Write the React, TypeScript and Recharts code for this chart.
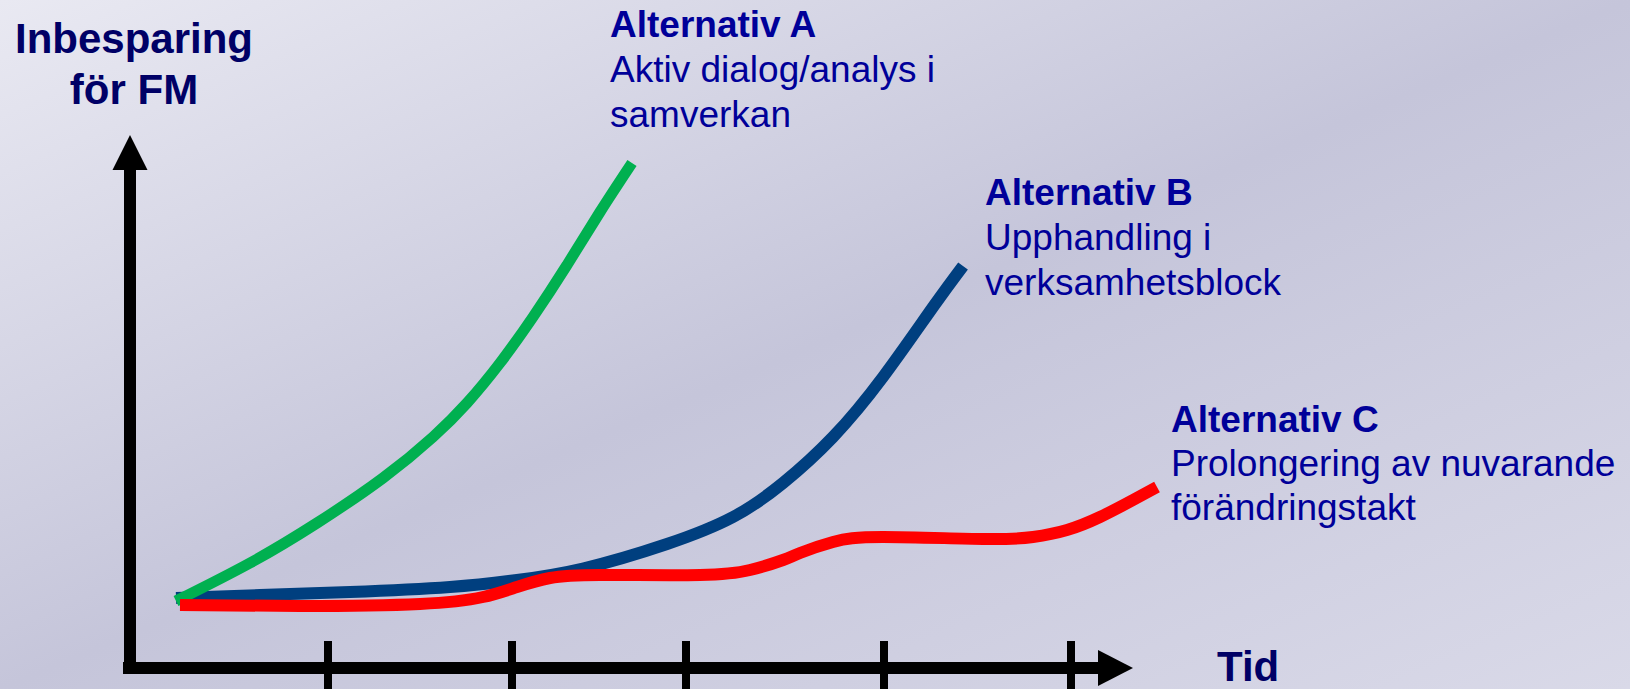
import React from "react";
import { LineChart, Line, XAxis, YAxis, ReferenceLine } from "recharts";

// Conceptual time axis (x) and savings axis (y), in chart units
const greenA = [
  { x: 4.6, y: 13.4 }, { x: 12.0, y: 21.0 }, { x: 18.7, y: 29.0 }, { x: 25.3, y: 38.0 },
  { x: 30.3, y: 46.2 }, { x: 33.7, y: 53.0 }, { x: 37.0, y: 61.0 }, { x: 40.3, y: 70.2 },
  { x: 43.7, y: 80.6 }, { x: 47.0, y: 91.2 }, { x: 50.2, y: 101.0 },
];
const blueB = [
  { x: 4.6, y: 14.0 }, { x: 13.0, y: 14.6 }, { x: 22.0, y: 15.2 }, { x: 32.0, y: 16.2 },
  { x: 38.7, y: 17.6 }, { x: 45.3, y: 19.9 }, { x: 53.7, y: 24.8 }, { x: 60.3, y: 30.2 },
  { x: 65.3, y: 37.0 }, { x: 70.3, y: 46.2 }, { x: 75.3, y: 58.2 }, { x: 80.3, y: 72.2 },
  { x: 83.3, y: 80.4 },
];
const redC = [
  { x: 5.0, y: 12.6 }, { x: 17.0, y: 12.4 }, { x: 29.0, y: 12.8 }, { x: 35.3, y: 14.2 },
  { x: 38.7, y: 16.2 }, { x: 42.0, y: 18.0 }, { x: 47.0, y: 18.6 }, { x: 57.0, y: 18.6 },
  { x: 62.0, y: 19.6 }, { x: 65.3, y: 21.6 }, { x: 67.0, y: 23.0 }, { x: 70.3, y: 25.2 },
  { x: 75.3, y: 26.2 }, { x: 85.3, y: 25.8 }, { x: 90.3, y: 26.2 }, { x: 93.7, y: 27.6 },
  { x: 97.0, y: 30.2 }, { x: 100.3, y: 33.6 }, { x: 102.7, y: 36.2 },
];
const timeTicks = [19.8, 38.2, 55.6, 75.4, 94.1];
const xAxisEnd = 100.3;
const yAxisEnd = 106.6;

const yTitle = ["Inbesparing", "för FM"];
const xTitle = "Tid";
const altA = ["Alternativ A", "Aktiv dialog/analys i", "samverkan"];
const altB = ["Alternativ B", "Upphandling i", "verksamhetsblock"];
const altC = ["Alternativ C", "Prolongering av nuvarande", "förändringstakt"];

const W = 1630;
const H = 689;
const FONT = "'Liberation Sans', Arial, sans-serif";

const Arrow = (props: any) => {
  const { x1, y1, x2, y2, w, head, hw } = props;
  const dx = x2 - x1;
  const dy = y2 - y1;
  const len = Math.sqrt(dx * dx + dy * dy) || 1;
  const ux = dx / len;
  const uy = dy / len;
  const bx = x2 - ux * head;
  const by = y2 - uy * head;
  const px = -uy * hw;
  const py = ux * hw;
  return (
    <g>
      <line x1={x1} y1={y1} x2={bx + ux * 1} y2={by + uy * 1} stroke="#000" strokeWidth={w} />
      <polygon points={`${x2},${y2} ${bx + px},${by + py} ${bx - px},${by - py}`} fill="#000" />
    </g>
  );
};

const TextBlock = ({ lines, x, y0, gap, color }: any) => (
  <g>
    {lines.map((t: string, i: number) => (
      <text
        key={i}
        x={x}
        y={y0 + i * gap}
        fill={color}
        fontFamily={FONT}
        fontSize={37}
        fontWeight={i === 0 ? "bold" : "normal"}
      >
        {t}
      </text>
    ))}
  </g>
);

export default function App() {
  return (
    <div
      style={{
        position: "absolute",
        left: 0,
        top: 0,
        width: W,
        height: H,
        overflow: "hidden",
        background: "linear-gradient(to bottom right, #e9e9f2 0%, #c5c5da 50%, #d9d9e8 100%)",
      }}
    >
      <LineChart
        width={W}
        height={H}
        margin={{ top: 118, right: 400, bottom: 21, left: 130 }}
        style={{ position: "absolute", left: 0, top: 0 }}
      >
        <XAxis type="number" dataKey="x" domain={[0, 110]} hide allowDataOverflow />
        <YAxis type="number" dataKey="y" domain={[0, 110]} hide allowDataOverflow />
        <ReferenceLine
          ifOverflow="visible"
          segment={[{ x: 0, y: -1.2 }, { x: 0, y: yAxisEnd }]}
          shape={(p: any) => <Arrow {...p} w={12} head={35} hw={17.5} />}
        />
        <ReferenceLine
          ifOverflow="visible"
          segment={[{ x: -0.7, y: 0 }, { x: xAxisEnd, y: 0 }]}
          shape={(p: any) => <Arrow {...p} w={12} head={35} hw={18} />}
        />
        {timeTicks.map((t) => (
          <ReferenceLine
            key={t}
            ifOverflow="visible"
            segment={[{ x: t, y: 5.4 }, { x: t, y: -6 }]}
            stroke="#000"
            strokeWidth={8}
          />
        ))}
        <Line
          data={blueB}
          dataKey="y"
          type="natural"
          stroke="#003F7F"
          strokeWidth={12}
          dot={false}
          isAnimationActive={false}
        />
        <Line
          data={greenA}
          dataKey="y"
          type="natural"
          stroke="#00B050"
          strokeWidth={11}
          dot={false}
          isAnimationActive={false}
        />
        <Line
          data={redC}
          dataKey="y"
          type="natural"
          stroke="#FF0000"
          strokeWidth={12}
          dot={false}
          isAnimationActive={false}
        />
      </LineChart>
      <svg
        width={W}
        height={H}
        style={{ position: "absolute", left: 0, top: 0, pointerEvents: "none" }}
      >
        {yTitle.map((t, i) => (
          <text
            key={t}
            x={134}
            y={53 + i * 51}
            textAnchor="middle"
            fill="#000066"
            fontFamily={FONT}
            fontSize={42}
            fontWeight="bold"
          >
            {t}
          </text>
        ))}
        <text x={1217} y={681} fill="#000066" fontFamily={FONT} fontSize={42} fontWeight="bold">
          {xTitle}
        </text>
        <TextBlock lines={altA} x={610} y0={37} gap={45} color="#000099" />
        <TextBlock lines={altB} x={985} y0={205} gap={45} color="#000099" />
        <TextBlock lines={altC} x={1171} y0={432} gap={44} color="#000099" />
      </svg>
    </div>
  );
}
